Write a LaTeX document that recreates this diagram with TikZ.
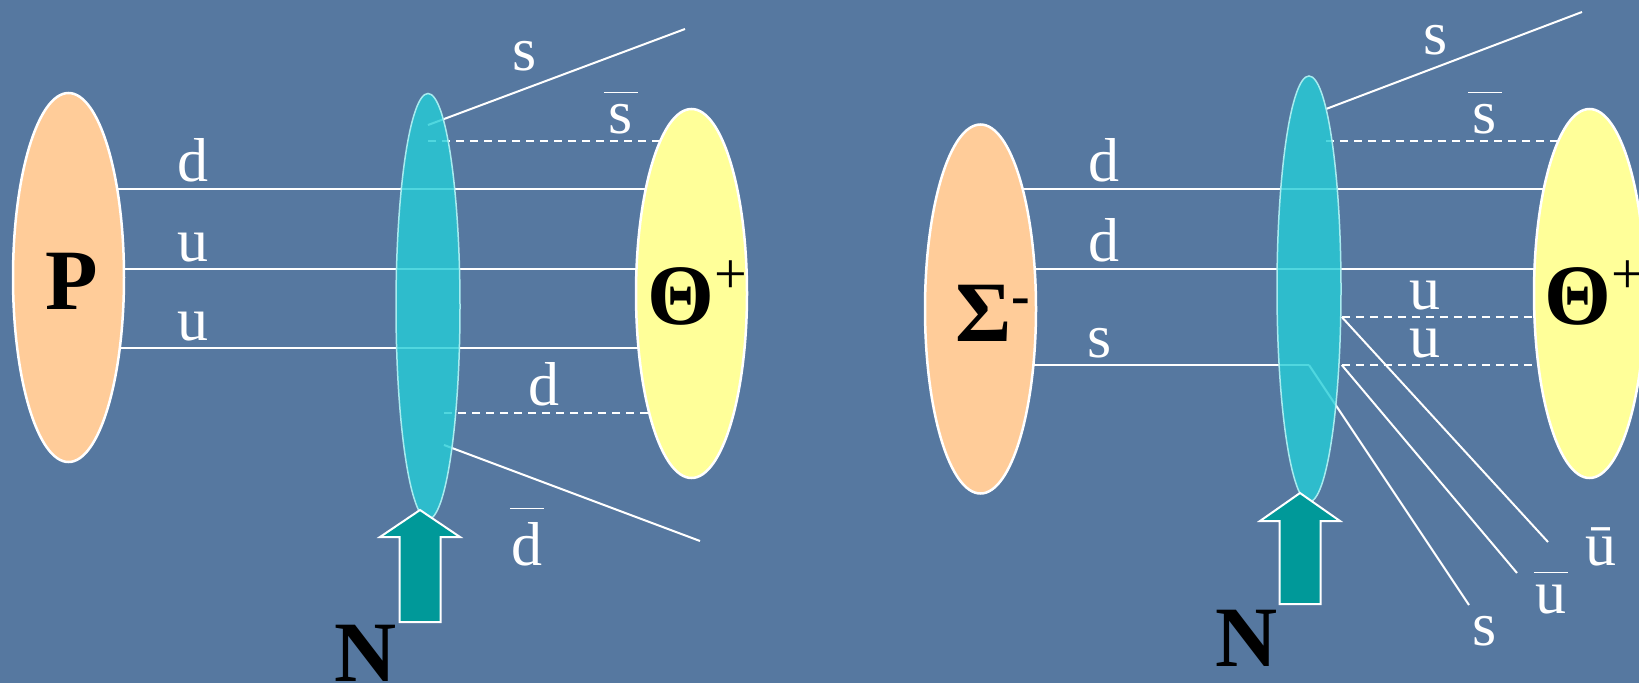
\documentclass[tikz,border=0pt]{standalone}
\usepackage{fontspec}
\setmainfont{Liberation Serif}
\usetikzlibrary{shapes.geometric}
\pgfdeclarelayer{back}
\pgfdeclarelayer{wires}
\pgfsetlayers{back,wires,main}
\definecolor{slide}{RGB}{86,120,160}
\definecolor{peach}{HTML}{FFCC99}
\definecolor{lemon}{HTML}{FFFF99}
\definecolor{lenscol}{HTML}{25CED8}
\definecolor{nteal}{HTML}{009999}
% bar over a quark letter
\newcommand{\qbar}[2][0.645em]{\ooalign{\hfil\rule[#1]{0.55em}{1.5pt}\hfil\cr\hfil#2\hfil\cr}}
\newcommand{\hplus}{\raisebox{31pt}{\fontsize{58}{58}\selectfont\mdseries +}}
\newcommand{\hminus}{\raisebox{27pt}{\fontsize{56}{56}\selectfont -}}
\tikzset{
  hadron/.style={ellipse, draw=white, line width=2.5pt, inner sep=0pt,
    minimum width=111pt, minimum height=369pt},
  target/.style={ellipse, fill=lenscol, fill opacity=0.8, draw=white!60!lenscol,
    line width=1.5pt, inner sep=0pt, minimum width=64pt, minimum height=426pt},
  quark/.style={draw=white, line width=2pt},
  sea/.style={quark, dash pattern=on 8pt off 6pt},
  beam/.style={fill=nteal, draw=white, line width=2pt},
  qlabel/.style={text=white, font=\fontsize{62}{62}\selectfont, anchor=base, inner sep=0pt},
  hlabel/.style={text=black, font=\fontsize{86}{86}\selectfont\bfseries, anchor=base, inner sep=0pt}
}
\begin{document}
\begin{tikzpicture}[x=1pt,y=-1pt]
    \begin{pgfonlayer}{back}
    \fill[slide] (0,0) rectangle (1639,683);
    \end{pgfonlayer}
    \useasboundingbox (0,0) rectangle (1639,683);
    %left: proton
    \node[hadron, fill=peach] (P) at (68.5,277.5) {};
    \node[hadron, fill=lemon] (T1) at (691.5,293.5) {};
    \node[target] (N1) at (428,306.5) {};
    \coordinate (s1) at (685,29);
    \coordinate (db1) at (700,541);
    \begin{pgfonlayer}{wires}
    \draw[quark] (P.center |- 0,189) -- (T1.center |- 0,189);
    \draw[quark] (P.center |- 0,269) -- (T1.center |- 0,269);
    \draw[quark] (P.center |- 0,348) -- (T1.center |- 0,348);
    \draw[quark] (N1.center |- 0,125) -- (s1);
    \draw[sea] (N1.center |- 0,141) -- (T1.center |- 0,141);
    \draw[sea] ([xshift=16pt]N1.center |- 0,413) -- (T1.center |- 0,413);
    \draw[quark] ([xshift=16pt]N1.center |- 0,445) -- (db1);
    \end{pgfonlayer}
    \draw[beam] (420,510) -- ++(40,27) -- ++(-19.5,0) -- ++(0,85) -- ++(-41,0)
      -- ++(0,-85) -- ++(-19.5,0) -- cycle;
    \node[qlabel] (d1) at (193,181) {d};
    \node[qlabel] (u1) at (193,261) {u};
    \node[qlabel] (u2) at (193,340) {u};
    \node[qlabel] (sl1) at (525,70) {s};
    \node[qlabel] (sb1) at (621,133) {\qbar{s}};
    \node[qlabel] (d2) at (544,405) {d};
    \node[qlabel] (dbl1) at (527,565) {\qbar[0.9em]{d}};
    \node[hlabel] (pl) at (71.5,309) {P};
    \node[hlabel, anchor=base west] (th1) at (647,324) {Θ\hplus};
    \node[hlabel] (nl1) at (366,681) {N};
    %right: sigma
    \node[hadron, fill=peach] (S) at (980.5,309) {};
    \node[hadron, fill=lemon] (T2) at (1589.5,293.5) {};
    \node[target] (N2) at (1309,289) {};
    \coordinate (s2a) at (1326,109);
    \coordinate (s2b) at (1582,12);
    \coordinate (s3) at (1469,605);
    \coordinate (ub1) at (1517,573);
    \coordinate (ub2) at (1548,542);
    \begin{pgfonlayer}{wires}
    \draw[quark] (S.center |- 0,189) -- (T2.center |- 0,189);
    \draw[quark] (S.center |- 0,269) -- (T2.center |- 0,269);
    \draw[quark] (S.center |- 0,365) -- (N2.center |- 0,365);
    \draw[quark] (s2a) -- (s2b);
    \draw[sea] (s2a |- 0,141) -- (T2.center |- 0,141);
    \draw[sea] (N2.east |- 0,317) -- (T2.center |- 0,317);
    \draw[sea] (N2.east |- 0,365) -- (T2.center |- 0,365);
    \draw[quark] (N2.center |- 0,365) -- (s3);
    \draw[quark] (N2.east |- 0,365) -- (ub1);
    \draw[quark] (N2.east |- 0,317) -- (ub2);
    \end{pgfonlayer}
    \draw[beam] (1300,493) -- ++(40,28) -- ++(-19.5,0) -- ++(0,83) -- ++(-41,0)
      -- ++(0,-83) -- ++(-19.5,0) -- cycle;
    \node[qlabel] (d3) at (1104,181) {d};
    \node[qlabel] (d4) at (1104,261) {d};
    \node[qlabel] (sl2) at (1100,357) {s};
    \node[qlabel] (u3) at (1425,309) {u};
    \node[qlabel] (u4) at (1425,357) {u};
    \node[qlabel] (sl3) at (1436,54) {s};
    \node[qlabel] (sb2) at (1485,133) {\qbar{s}};
    \node[qlabel] (sl4) at (1485,645) {s};
    \node[qlabel] (ubl1) at (1551,613) {\qbar{u}};
    \node[qlabel] (ubl2) at (1601,565) {\=u};
    \node[hlabel, anchor=base west] (sg) at (955,341) {Σ\hminus};
    \node[hlabel, anchor=base west] (th2) at (1544,324) {Θ\hplus};
    \node[hlabel] (nl2) at (1247,666) {N};
\end{tikzpicture}
\end{document}
